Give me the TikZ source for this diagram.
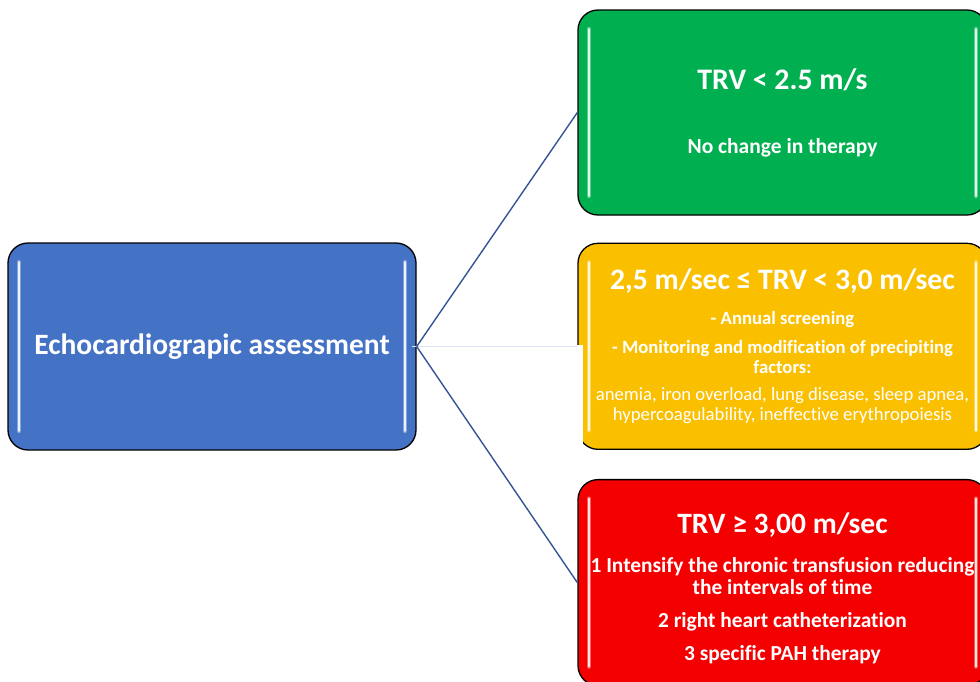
\documentclass[tikz,border=0pt]{standalone}
\usepackage{fontspec}
\setmainfont{Carlito}[Ligatures=NoCommon]
\usetikzlibrary{calc,positioning}
\definecolor{echoblue}{RGB}{68,114,196}
\definecolor{trvgreen}{RGB}{0,176,80}
\definecolor{trvyellow}{RGB}{250,192,0}
\definecolor{trvred}{RGB}{245,0,0}
\definecolor{linkblue}{RGB}{52,84,150}
\definecolor{faintblue}{RGB}{218,227,243}
\tikzset{
    box/.style={draw=black, line width=1.3pt, rounded corners=20pt, text=white,
    align=center, font=\bfseries, minimum height=206pt, inner sep=0pt,
    path picture = {
        \draw[gloss]
        ([xshift=11pt,yshift=-19pt]path picture bounding box.north west) --
        ([xshift=11pt,yshift=19pt]path picture bounding box.south west)
        ([xshift=-11pt,yshift=-19pt]path picture bounding box.north east) --
        ([xshift=-11pt,yshift=19pt]path picture bounding box.south east);
        \draw[glosscore]
        ([xshift=11pt,yshift=-19pt]path picture bounding box.north west) --
        ([xshift=11pt,yshift=19pt]path picture bounding box.south west)
        ([xshift=-11pt,yshift=-19pt]path picture bounding box.north east) --
        ([xshift=-11pt,yshift=19pt]path picture bounding box.south east);
    }
    },
  gloss/.style = {white, opacity=0.35, line width=4.5pt, line cap=round},
  glosscore/.style = {white, opacity=0.85, line width=1.6pt, line cap=round},
  sidebox/.style = {box, minimum width=409pt},
  link/.style = {linkblue, line width=1.4pt},
  faintlink/.style = {faintblue, line width=0.9pt}
}
\begin{document}
\begin{tikzpicture}[x=1pt, y=-1pt]
  \useasboundingbox (0,0) rectangle (980,681);

  \node[box, fill=echoblue, minimum width=408pt, minimum height=207pt,
        font=\bfseries\fontsize{29.5}{32}\selectfont] (echo) at (212,346.5)
        {Echocardiograpic assessment};

  \node[sidebox, fill=trvgreen, minimum height=205pt,
        font=\bfseries\fontsize{21.5}{24}\selectfont] (green) at (782.5,112.5)
        {{\fontsize{29.8}{32}\selectfont TRV < 2.5 m/s}\\[40pt]
         No change in therapy};

  \node[sidebox, fill=trvyellow, below=27pt of green,
        font=\bfseries\fontsize{18.7}{20}\selectfont] (yellow)
        {{\fontsize{29.7}{32}\selectfont 2,5 m/sec ≤ TRV < 3,0 m/sec}\\[15pt]
         - Annual screening\\[9pt]
         - Monitoring and modification of precipiting\\
         factors:\\[7pt]
         {\mdseries anemia, iron overload, lung disease, sleep apnea,}\\
         {\mdseries hypercoagulability, ineffective erythropoiesis}};

  \node[sidebox, fill=trvred, below=29pt of yellow,
        font=\bfseries\fontsize{21.4}{22}\selectfont] (red)
        {\rule{0pt}{32pt}{\fontsize{29.5}{32}\selectfont TRV ≥ 3,00 m/sec}\\[17pt]
         1 Intensify the chronic transfusion reducing\\
         the intervals of time\\[11pt]
         2 right heart catheterization\\[11pt]
         3 specific PAH therapy};

  \fill[white] (570,344.5) rectangle (583,452);

  \draw[faintlink, shorten <=-5pt] (echo.east) -- (echo.east -| yellow.west);
  \draw[link] (echo.east) -- (green.west);
  \draw[link] (echo.east) -- (red.west);
\end{tikzpicture}
\end{document}
